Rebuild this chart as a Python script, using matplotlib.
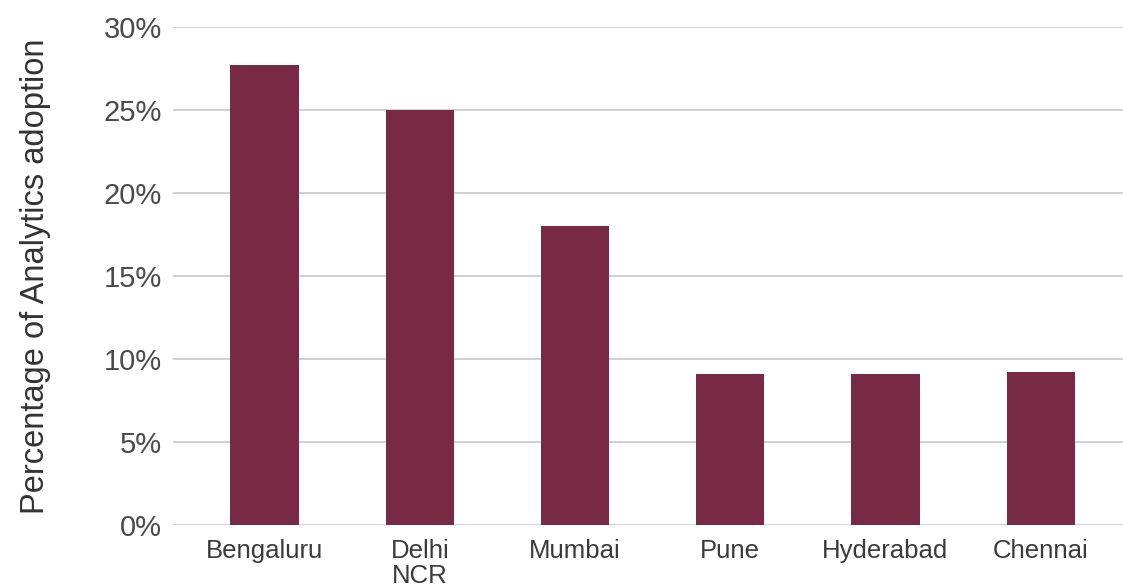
import matplotlib.pyplot as plt
from matplotlib.ticker import MultipleLocator, FuncFormatter

cities = ["Bengaluru", "Delhi\nNCR", "Mumbai", "Pune", "Hyderabad", "Chennai"]
adoption = [27.7, 25.0, 18.0, 9.1, 9.1, 9.2]

plt.rcParams["font.family"] = ["Liberation Sans", "DejaVu Sans"]

fig = plt.figure(figsize=(11.23, 5.87), dpi=100)
ax = fig.add_axes([0.154, 0.106, 0.846, 0.848])

x = range(len(cities))
ax.bar(x, adoption, width=0.44, color="#782944", zorder=3)

ax.set_ylim(0, 30)
ax.set_xlim(-0.59, 5.53)
ax.yaxis.set_major_locator(MultipleLocator(5))
ax.yaxis.set_major_formatter(FuncFormatter(lambda v, p: "{:d}%".format(int(v))))
ax.grid(axis="y", color="#c8c8c8", linewidth=1.2, zorder=0)
ax.set_axisbelow(True)

for s in ax.spines.values():
    s.set_visible(False)

ax.set_xticks(list(x))
ax.set_xticklabels(cities, fontsize=18.5, color="#3a3a3a", va="top", linespacing=1.05)
ax.tick_params(axis="x", length=0, pad=10)
ax.tick_params(axis="y", length=0, pad=8, labelsize=21, labelcolor="#4a4a4a")

ax.set_ylabel("Percentage of Analytics adoption", fontsize=23.5, color="#333333", labelpad=38)

fig.savefig("out.png", dpi=100)
